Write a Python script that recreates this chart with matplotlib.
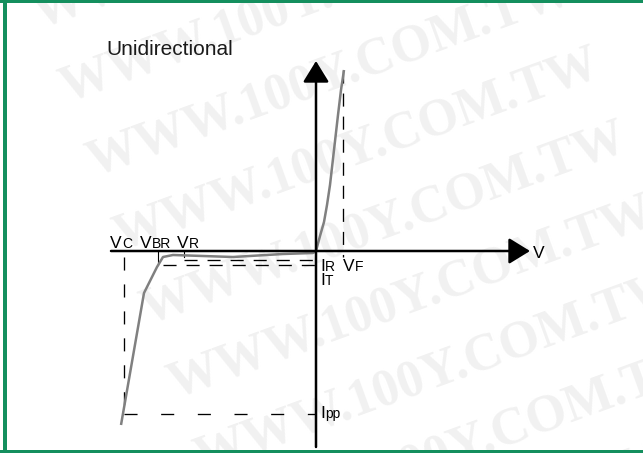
import numpy as np
import matplotlib
matplotlib.use("Agg")
import matplotlib.pyplot as plt
from matplotlib.patches import Rectangle

plt.rcParams['font.family'] = ['Liberation Sans', 'DejaVu Sans']
plt.rcParams['lines.scale_dashes'] = False

# I-V characteristic, arbitrary units, origin where the axes cross
rev_v = [-19.5, -17.2, -15.9, -15.3, -14.3, -8.3, -3.3, -0.3, 0.0]
rev_i = [-17.4, -4.2, -1.6, -0.6, -0.4, -0.6, -0.3, -0.2, 0.0]
fwd_v = [0.0, 0.4, 0.8, 1.1, 1.4, 1.8, 2.2, 2.5, 2.8]
fwd_i = [0.0, 1.5, 2.9, 4.6, 6.6, 10.1, 13.6, 16.1, 18.1]

# marked levels
v_c, v_br, v_r, v_f = -19.2, -15.8, -13.2, 2.7
i_r, i_t, i_pp = -0.9, -1.4, -16.3
i_top = 18.1

W, H = 643, 453
fig = plt.figure(figsize=(W / 100, H / 100), dpi=100)
ax = fig.add_axes([0, 0, 1, 1])
ax.set_xlim(-31.6, 32.7)
ax.set_ylim(-20.2, 25.1)
ax.axis('off')

# watermark
ang = np.radians(20)
for k in range(-4, 6):
    for j in (-1, 0, 1):
        x0 = 120 + 26.9 * k + 690 * j * np.cos(ang)
        y0 = 251 + 74 * k - 690 * j * np.sin(ang)
        ax.text(x0 / W, 1 - y0 / H, 'WWW.100Y.COM.TW', transform=ax.transAxes,
                rotation=20, rotation_mode='anchor', ha='left', va='baseline',
                fontsize=37.4, family='Liberation Serif', weight='bold',
                color='#f1f1f1', zorder=0)

# green frame (left, top, bottom)
green = '#148f5e'
ax.add_patch(Rectangle((3 / W, 0), 4 / W, 1, transform=ax.transAxes, color=green, lw=0))
ax.add_patch(Rectangle((0, 1 - 2.5 / H), 1, 2.5 / H, transform=ax.transAxes, color=green, lw=0))
ax.add_patch(Rectangle((0, 0), 1, 3.5 / H, transform=ax.transAxes, color=green, lw=0))

# dashed guide lines
dash = dict(color='black', lw=0.95)
ax.plot([v_c, v_c], [-0.6, i_pp], dashes=(9.4, 10), **dash)
ax.plot([v_c, 0], [i_pp, i_pp], dashes=(9.4, 17), **dash)
ax.plot([v_r, 0], [i_r, i_r], dashes=(9.4, 7.2), **dash)
ax.plot([-15.3, 0], [i_t, i_t], dashes=(9.4, 7.2), **dash)
ax.plot([v_f, v_f], [i_top, -0.6], dashes=(9.4, 7.2), **dash)

# small solid ticks at VBR and VR
ax.plot([v_br, v_br], [0, i_t], color='black', lw=0.8)
ax.plot([v_r, v_r], [0, -0.6], color='black', lw=0.8)

# curve
ax.plot(rev_v, rev_i, color='#808080', lw=1.8, solid_capstyle='butt', zorder=3)
ax.plot(fwd_v, fwd_i, color='#808080', lw=1.8, solid_capstyle='butt', zorder=3)

# axes with arrow heads
arr = dict(arrowstyle='-|>,head_length=0.65,head_width=0.4', mutation_scale=20,
           lw=1.8, color='black', shrinkA=0, shrinkB=0)
ax.annotate('', xy=(21.4, 0), xytext=(-20.5, 0), arrowprops=arr, zorder=4)
ax.annotate('', xy=(0, 19.0), xytext=(0, -19.6), arrowprops=arr, zorder=4)


def label(x, y, main, sub='', dx=8.5):
    ax.text(x, y, main, fontsize=12.5, ha='left', va='baseline')
    if sub:
        ax.annotate(sub, (x, y), xytext=(dx, 0), textcoords='offset points',
                    fontsize=10, ha='left', va='baseline')


label(-20.6, 0.3, 'V', 'C')
label(-17.6, 0.3, 'V', 'BR')
label(-13.9, 0.3, 'V', 'R')
label(0.4, -2.0, 'I', 'R', 3.4)
label(2.7, -2.0, 'V', 'F')
label(0.4, -3.4, 'I', 'T', 3.4)
label(0.4, -16.7, 'I', 'pp', 3.4)
label(21.7, -0.7, 'V')
ax.text(-21.0, 19.6, 'Unidirectional', fontsize=15, ha='left', va='baseline', color='#1a1a1a')

fig.savefig('out.png', dpi=100)
